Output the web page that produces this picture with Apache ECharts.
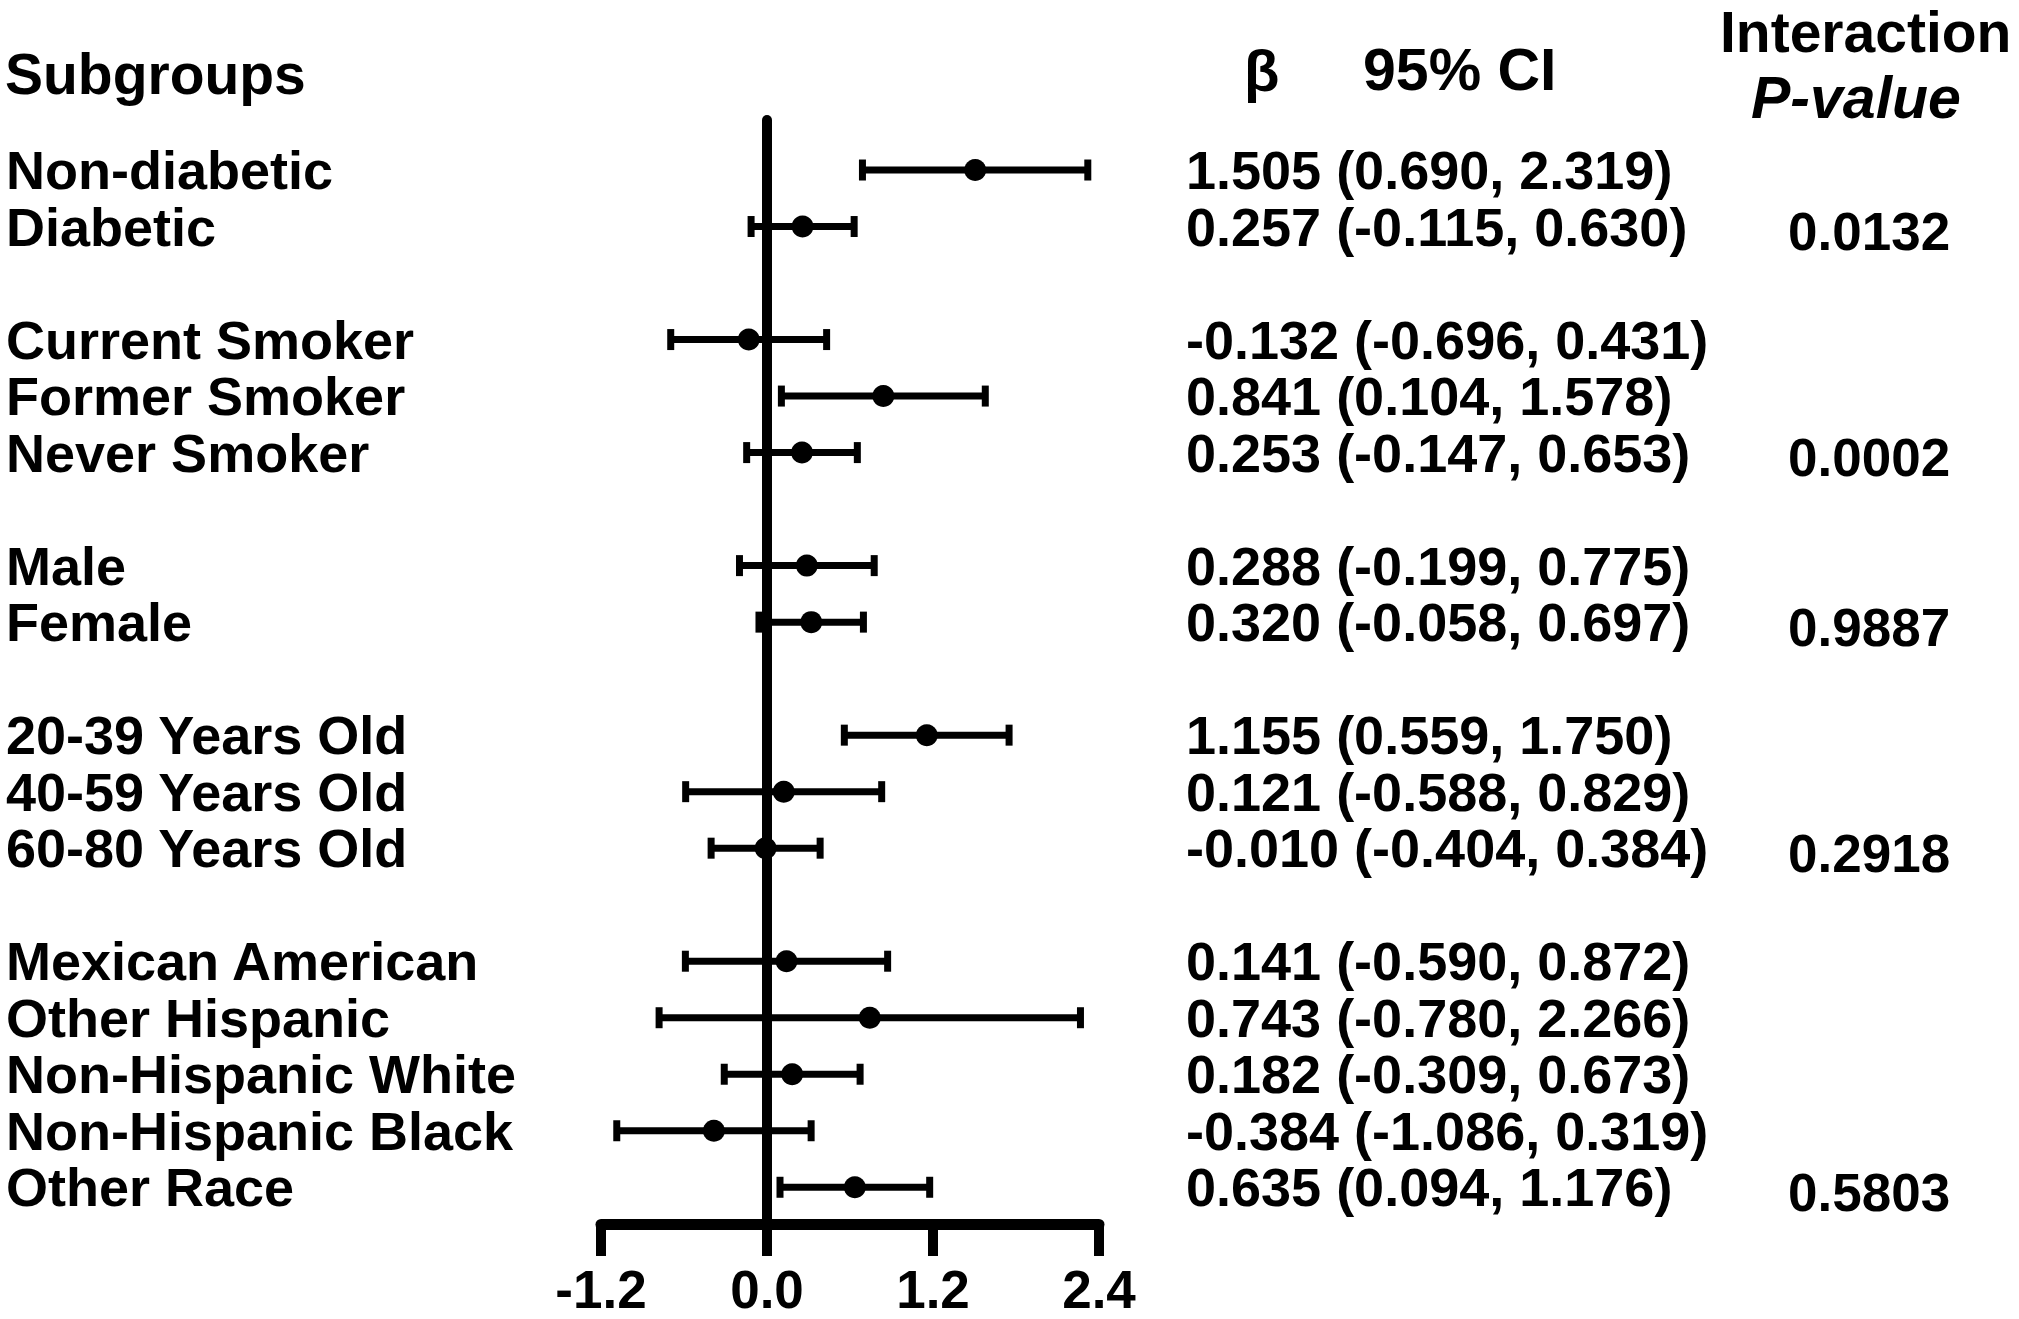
<!DOCTYPE html>
<html>
<head>
<meta charset="utf-8">
<script src="https://cdn.jsdelivr.net/npm/echarts@6/dist/echarts.min.js"></script>
<style>
html, body { margin: 0; padding: 0; background: #fff; }
#chart1 { width: 2019px; height: 1319px; }
</style>
</head>
<body>
<div id="chart1"></div>
<script>
// "" rows are the blank spacer rows between groups
var subgroups = ["Non-diabetic", "Diabetic", "",
    "Current Smoker", "Former Smoker", "Never Smoker", "",
    "Male", "Female", "",
    "20-39 Years Old", "40-59 Years Old", "60-80 Years Old", "",
    "Mexican American", "Other Hispanic", "Non-Hispanic White", "Non-Hispanic Black", "Other Race"]
var beta  = [1.505, 0.257, null, -0.132, 0.841, 0.253, null, 0.288, 0.320, null, 1.155, 0.121, -0.010, null, 0.141, 0.743, 0.182, -0.384, 0.635]
var lower = [0.690, -0.115, null, -0.696, 0.104, -0.147, null, -0.199, -0.058, null, 0.559, -0.588, -0.404, null, -0.590, -0.780, -0.309, -1.086, 0.094]
var upper = [2.319, 0.630, null, 0.431, 1.578, 0.653, null, 0.775, 0.697, null, 1.750, 0.829, 0.384, null, 0.872, 2.266, 0.673, 0.319, 1.176]
var pValues = ["", "0.0132", "", "", "", "0.0002", "", "", "0.9887", "", "", "", "0.2918", "", "", "", "", "", "0.5803"]
var xTicks = [-1.2, 0.0, 1.2, 2.4]

var FONT = '"Liberation Sans", Arial, sans-serif'

var barData = []
var pointData = []
var rowData = []
subgroups.forEach(function (name, i) {
    rowData.push([0, i])
    if (beta[i] === null) return
    barData.push([i, lower[i], upper[i]])
    pointData.push([beta[i], i])
})

function ciText(i) {
    if (beta[i] === null) return ""
    return beta[i].toFixed(3) + " (" + lower[i].toFixed(3) + ", " + upper[i].toFixed(3) + ")"
}

var forest = echarts.init(document.querySelector("#chart1"), null, { renderer: "svg" })

var forestOption = {
    animation: false,
    backgroundColor: "#fff",
    grid: { left: 601, right: 920, top: 120, bottom: 95 },
    xAxis: {
        type: "value",
        min: xTicks[0],
        max: xTicks[xTicks.length - 1],
        interval: xTicks[1] - xTicks[0],
        axisLine: { onZero: false, lineStyle: { color: "#000", width: 11 } },
        axisTick: { show: true, length: 32, lineStyle: { color: "#000", width: 10 } },
        splitLine: { show: false },
        axisLabel: {
            margin: 45,
            lineHeight: 40,
            color: "#000",
            fontSize: 53,
            fontWeight: "bold",
            fontFamily: FONT,
            formatter: function (v) { return v.toFixed(1) }
        }
    },
    yAxis: {
        type: "value",
        inverse: true,
        min: -0.885,
        max: 18.65,
        axisLine: { show: true, onZero: true, lineStyle: { color: "#000", width: 10 } },
        axisTick: { show: false },
        axisLabel: { show: false },
        splitLine: { show: false }
    },
    graphic: [
        { type: "text", x: 5, y: 74, style: { text: "Subgroups", fill: "#000", fontSize: 57, fontWeight: "bold", fontFamily: FONT, verticalAlign: "middle" } },
        { type: "text", x: 1244, y: 70, style: { text: "β", fill: "#000", fontSize: 58, fontWeight: "bold", fontFamily: FONT, verticalAlign: "middle" } },
        { type: "text", x: 1363, y: 70, style: { text: "95% CI", fill: "#000", fontSize: 59, fontWeight: "bold", fontFamily: FONT, verticalAlign: "middle" } },
        { type: "text", x: 1720, y: 32, style: { text: "Interaction", fill: "#000", fontSize: 57, lineHeight: 44, fontWeight: "bold", fontFamily: FONT, verticalAlign: "middle" } },
        { type: "text", x: 1751, y: 98, style: { text: "P-value", fill: "#000", fontSize: 59, fontWeight: "bold", fontStyle: "italic", fontFamily: FONT, verticalAlign: "middle" } }
    ],
    series: [
        {
            // error bars with caps
            type: "custom",
            data: barData,
            encode: { x: [1, 2], y: 0 },
            renderItem: function (params, api) {
                var row = api.value(0)
                var lo = api.coord([api.value(1), row])
                var hi = api.coord([api.value(2), row])
                var cap = 10.5
                var st = { stroke: "#000", lineWidth: 7 }
                return {
                    type: "group",
                    children: [
                        { type: "line", shape: { x1: lo[0], y1: lo[1], x2: hi[0], y2: hi[1] }, style: st },
                        { type: "line", shape: { x1: lo[0], y1: lo[1] - cap, x2: lo[0], y2: lo[1] + cap }, style: st },
                        { type: "line", shape: { x1: hi[0], y1: hi[1] - cap, x2: hi[0], y2: hi[1] + cap }, style: st }
                    ]
                }
            }
        },
        {
            type: "scatter",
            data: pointData,
            symbol: "circle",
            symbolSize: 22,
            itemStyle: { color: "#000", opacity: 1 },
            z: 3
        },
        {
            // row texts: subgroup name, beta (CI), interaction p
            type: "custom",
            data: rowData,
            encode: { x: 0, y: 1 },
            clip: false,
            renderItem: function (params, api) {
                var i = api.value(1)
                var y = api.coord([0, i])[1]
                var base = { fill: "#000", fontWeight: "bold", fontFamily: FONT, verticalAlign: "middle", align: "left" }
                return {
                    type: "group",
                    children: [
                        { type: "text", style: Object.assign({ text: subgroups[i], x: 6, y: y, fontSize: 54 }, base) },
                        { type: "text", style: Object.assign({ text: ciText(i), x: 1186, y: y, fontSize: 54 }, base) },
                        { type: "text", style: Object.assign({ text: pValues[i], x: 1788, y: y + 5, fontSize: 53 }, base) }
                    ]
                }
            }
        }
    ]
}

forest.setOption(forestOption)
</script>
</body>
</html>
